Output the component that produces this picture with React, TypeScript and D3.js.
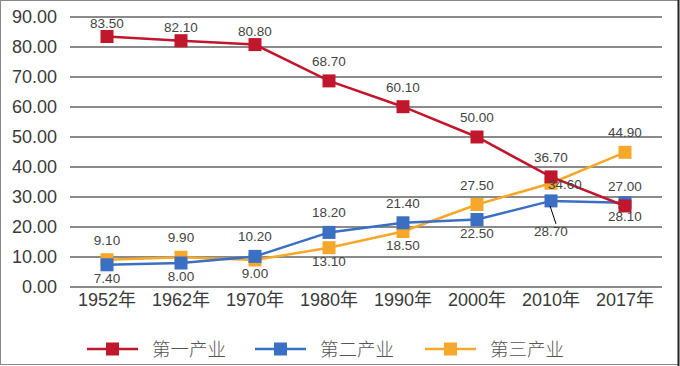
import React from "react";
import * as d3 from "d3";

const categories = ["1952年", "1962年", "1970年", "1980年", "1990年", "2000年", "2010年", "2017年"];
const primary = [83.5, 82.1, 80.8, 68.7, 60.1, 50.0, 36.7, 27.0];
const secondary = [7.4, 8.0, 10.2, 18.2, 21.4, 22.5, 28.7, 28.1];
const tertiary = [9.1, 9.9, 9.0, 13.1, 18.5, 27.5, 34.6, 44.9];
const seriesNames = ["第一产业", "第二产业", "第三产业"];
const yTicks = [0, 10, 20, 30, 40, 50, 60, 70, 80, 90];

// label placement per point: "t" tight above, "a" above, "b" below, "r" right, "l" leader below
const primaryPos = ["t", "t", "t", "a", "a", "a", "a", "a"];
const secondaryPos = ["b", "b", "a", "a", "a", "b", "l", "b"];
const tertiaryPos = ["a", "a", "b", "b", "b", "a", "r", "a"];

const colors = ["#c0172c", "#3a6fc4", "#f5a82a"];
const font = "'Liberation Sans', Arial, 'Noto Sans CJK SC', sans-serif";

export default function App() {
  const W = 680, H = 366;
  const x = d3.scaleBand<string>().domain(categories).range([70, 662]);
  const y = d3.scaleLinear().domain([0, 90]).range([287, 17]);
  const cx = (c: string) => (x(c) as number) + x.bandwidth() / 2;
  const line = d3.line<number>().x((_, i) => cx(categories[i])).y((d) => y(d));
  const all = [primary, secondary, tertiary];
  const pos = [primaryPos, secondaryPos, tertiaryPos];

  return (
    <svg width={W} height={H} style={{ position: "absolute", left: 0, top: 0, background: "#fff" }} fontFamily={font}>
      <rect x={0.5} y={0.5} width={W - 2} height={H - 2} fill="#fff" stroke="#888" />
      <line x1={W - 1.5} y1={0} x2={W - 1.5} y2={H} stroke="#222" strokeWidth={2} />
      {yTicks.map((t) => (
        <g key={t}>
          <line x1={70} x2={662} y1={y(t)} y2={y(t)} stroke="#8a8a8a" strokeWidth={2} />
          <text x={57} y={y(t)} dy="0.36em" textAnchor="end" fontSize={18} fill="#3a3a3a">
            {t.toFixed(2)}
          </text>
        </g>
      ))}
      {categories.map((c) => (
        <text key={c} x={cx(c)} y={306} textAnchor="middle" fontSize={18} fill="#3a3a3a">
          {c}
        </text>
      ))}
      {[2, 1, 0].map((si) => (
        <g key={si}>
          <path d={line(all[si]) as string} fill="none" stroke={colors[si]} strokeWidth={2.5} />
          {all[si].map((v, i) => (
            <rect key={i} x={cx(categories[i]) - 6.5} y={y(v) - 6.5} width={13} height={13} fill={colors[si]} />
          ))}
        </g>
      ))}
      {all.map((s, si) =>
        s.map((v, i) => {
          const p = pos[si][i];
          const px = cx(categories[i]);
          const py = y(v);
          let tx = px, ty = py, anchor = "middle";
          if (p === "t") ty = py - 9;
          else if (p === "a") ty = py - 15;
          else if (p === "b") ty = py + 18;
          else if (p === "r") { tx = px + 14; ty = py + 6; }
          else if (p === "l") ty = py + 35;
          return (
            <g key={si + "-" + i}>
              {p === "l" && <line x1={px - 1} y1={py + 5} x2={px + 5} y2={py + 23} stroke="#000" strokeWidth={1} />}
              <text x={tx} y={ty} textAnchor={anchor} fontSize={13.5} fill="#444">
                {v.toFixed(2)}
              </text>
            </g>
          );
        })
      )}
      {seriesNames.map((n, i) => {
        const lx = [87, 255, 425][i];
        return (
          <g key={n}>
            <line x1={lx} x2={lx + 51} y1={349} y2={349} stroke={colors[i]} strokeWidth={2.5} />
            <rect x={lx + 19} y={342.5} width={13} height={13} fill={colors[i]} />
            <text x={lx + 65} y={349} dy="0.36em" fontSize={18.5} fill="#555" fontFamily="'Noto Sans CJK SC', sans-serif" fontWeight={300}>
              {n}
            </text>
          </g>
        );
      })}
    </svg>
  );
}
